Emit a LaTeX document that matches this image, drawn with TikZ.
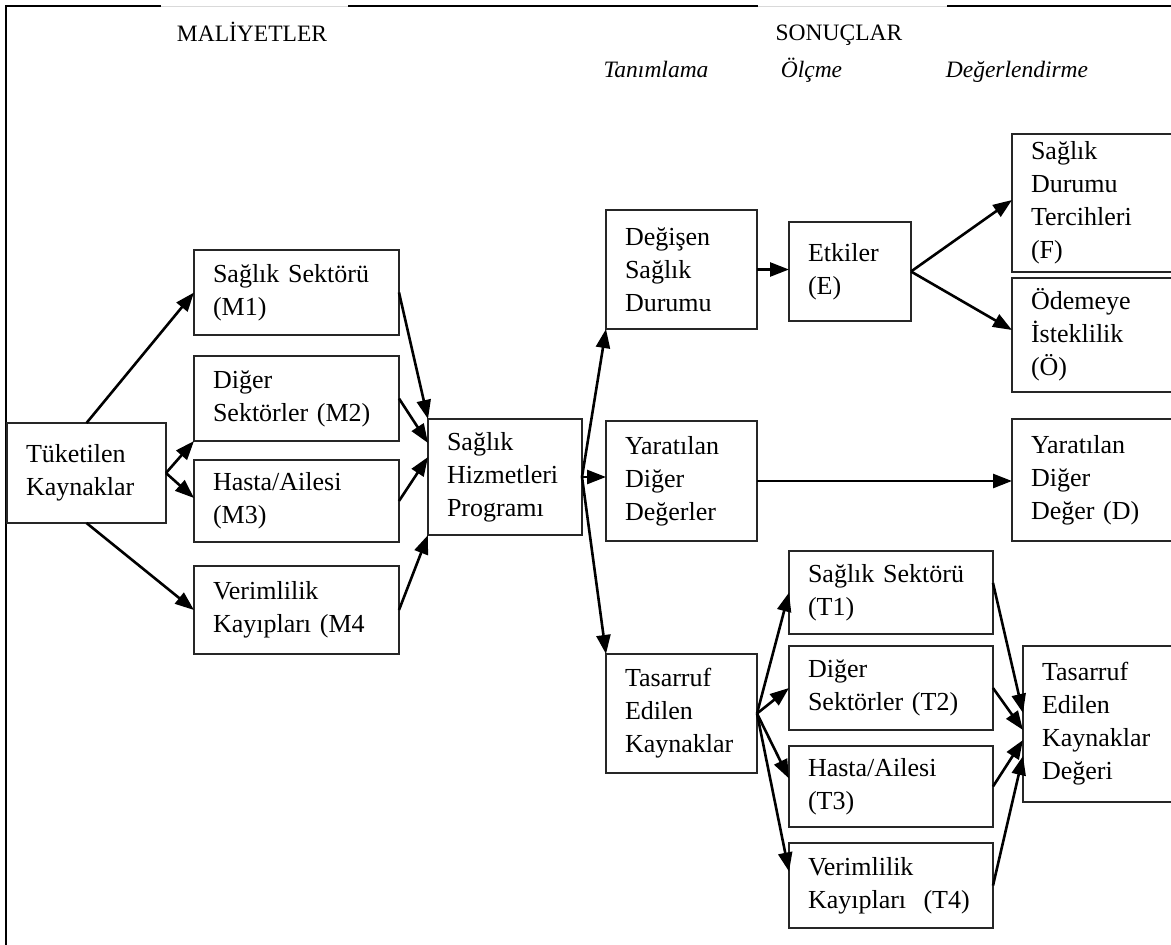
\documentclass[tikz,border=0pt]{standalone}
\usepackage{fontspec}
\setmainfont{Liberation Serif}
\usetikzlibrary{arrows.meta,calc}
\begin{document}
\begin{tikzpicture}[x=1pt,y=-1pt,
  box/.style={draw=black!85, line width=1.4pt, rectangle, anchor=north west,
    inner xsep=19pt, inner ysep=0pt, outer sep=0pt, align=left,
    font=\fontsize{26}{33}\selectfont},
  conn/.style={line width=2.6pt, -{Triangle[length=19pt,width=14pt]}},
  head/.style={anchor=base, font=\fontsize{23.5}{28}\selectfont},
  subhead/.style={anchor=base, font=\fontsize{23.5}{28}\selectfont\itshape}]

\clip (0,0) rectangle (1171,945);

% frame (left and top edges, opened behind the two headings)
\draw[line width=2.8pt] (6,945) -- (6,6) -- (161,6);
\draw[line width=2.8pt] (348,6) -- (758,6);
\draw[line width=2.8pt] (947,6) -- (1171,6);
\draw[black!15, line width=0.8pt] (161,6) -- (348,6) (758,6) -- (947,6);

% headings
\node[head] (hm) at (252,41) {MALİYETLER};
\node[head] (hs) at (839,40) {SONUÇLAR};
\node[subhead] (s1) at (656,77) {Tanımlama};
\node[subhead] (s2) at (811.5,77) {Ölçme};
\node[subhead] (s3) at (1017,77) {Değerlendirme};

% costs
\node[box, text width=121pt, minimum height=100pt] (tk) at (7,423) {Tüketilen\\Kaynaklar};
\node[box, text width=167pt, minimum height=85pt] (m1) at (194,250) {Sağlık Sektörü\\(M1)};
\node[box, text width=167pt, minimum height=85pt] (m2) at (194,356) {Diğer\\Sektörler (M2)};
\node[box, text width=167pt, minimum height=82pt] (m3) at (194,460) {Hasta/Ailesi\\(M3)};
\node[box, text width=167pt, minimum height=88pt] (m4) at (194,566) {Verimlilik\\Kayıpları (M4};

% programme
\node[box, text width=116pt, minimum height=116pt] (pr) at (428,419) {Sağlık\\Hizmetleri\\Programı};

% outcomes: identification
\node[box, text width=113pt, minimum height=119pt] (de) at (606,210) {Değişen\\Sağlık\\Durumu};
\node[box, text width=113pt, minimum height=120pt] (ya) at (606,421) {Yaratılan\\Diğer\\Değerler};
\node[box, text width=113pt, minimum height=119pt] (ta) at (606,654) {Tasarruf\\Edilen\\Kaynaklar};

% outcomes: measurement
\node[box, text width=84pt, minimum height=99pt] (et) at (789,222) {Etkiler\\(E)};
\node[box, text width=166pt, minimum height=83pt] (t1) at (789,551) {Sağlık Sektörü\\(T1)};
\node[box, text width=166pt, minimum height=84pt] (t2) at (789,646) {Diğer\\Sektörler (T2)};
\node[box, text width=166pt, minimum height=81pt] (t3) at (789,746) {Hasta/Ailesi\\(T3)};
\node[box, text width=166pt, minimum height=85pt] (t4) at (789,843) {Verimlilik\\Kayıpları\ \ (T4)};

% outcomes: valuation
\node[box, text width=142pt, minimum height=138pt] (f) at (1012,134) {Sağlık\\Durumu\\Tercihleri\\(F)};
\node[box, text width=142pt, minimum height=114pt] (oe) at (1012,278) {Ödemeye\\İsteklilik\\(Ö)};
\node[box, text width=142pt, minimum height=122pt] (d) at (1012,419) {Yaratılan\\Diğer\\Değer (D)};
\node[box, text width=132pt, minimum height=156pt] (tv) at (1023,646) {Tasarruf\\Edilen\\Kaynaklar\\Değeri};

% connectors
\draw[conn] (tk.north) -- (m1.west);
\draw[conn] (tk.east) -- (m2.south west);
\draw[conn] (tk.east) -- ($(m3.west)+(0,-3)$);
\draw[conn] (tk.south) -- (m4.west);
\draw[conn] (m1.east) -- (pr.north west);
\draw[conn] (m2.east) -- ($(pr.north west)+(0,24)$);
\draw[conn] (m3.east) -- ($(pr.north west)+(0,38)$);
\draw[conn] (m4.east) -- (pr.south west);

\draw[conn] (pr.east) -- (de.south west);
\draw[conn] (pr.east) -- (pr.east -| ya.west);
\draw[conn] (pr.east) -- (ta.north west);

\draw[conn] (de.east) -- (de.east -| et.west);
\draw[conn] (et.east) -- ($(f.west)+(0,-3)$);
\draw[conn] (et.east) -- ($(oe.west)+(0,-5)$);
\draw[conn] (ya.east) -- (ya.east -| d.west);

\draw[conn] (ta.east) -- (t1.west);
\draw[conn] (ta.east) -- (t2.west);
\draw[conn] (ta.east) -- ($(t3.west)+(0,-8)$);
\draw[conn] (ta.east) -- ($(t4.west)+(0,-14)$);

\draw[conn] ($(t1.north east)+(0,32)$) -- ($(tv.west)+(0,-11)$);
\draw[conn] (t2.east) -- ($(tv.west)+(0,6)$);
\draw[conn] (t3.east) -- ($(tv.west)+(0,16)$);
\draw[conn] (t4.east) -- ($(tv.west)+(0,32)$);
\end{tikzpicture}
\end{document}
